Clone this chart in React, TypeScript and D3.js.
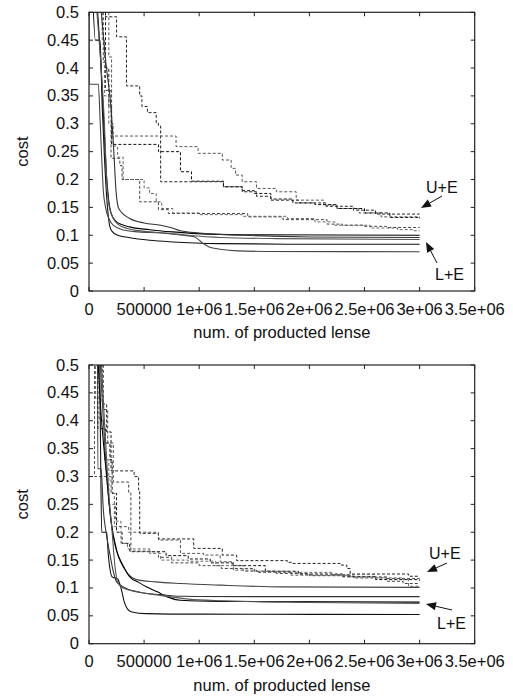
import React from 'react';
import * as d3 from 'd3';

type Pt = [number, number];

const W = 513;
const H = 698;
const X_UNIT = 1e5; // x values below are in units of 100000 lenses

const xTicks = [0, 500000, 1000000, 1500000, 2000000, 2500000, 3000000, 3500000];
const xTickLabels = ['0', '500000', '1e+06', '1.5e+06', '2e+06', '2.5e+06', '3e+06', '3.5e+06'];
const yTicks = [0, 0.05, 0.1, 0.15, 0.2, 0.25, 0.3, 0.35, 0.4, 0.45, 0.5];
const yTickLabels = ['0', '0.05', '0.1', '0.15', '0.2', '0.25', '0.3', '0.35', '0.4', '0.45', '0.5'];

// ---------- top panel: L+E (solid) ----------
const topSolidA: Pt[] = [[0.3, 0.55], [0.58, 0.45], [1.0, 0.45], [1.2, 0.33], [1.4, 0.24], [1.6, 0.17], [1.9, 0.115], [2.1, 0.107], [2.6, 0.1], [3.6, 0.096], [5.5, 0.091], [7.6, 0.088], [11.9, 0.085], [18, 0.084], [30, 0.084]];
const topSolidB: Pt[] = [[0, 0.55], [0.02, 0.371], [0.85, 0.371], [1.0, 0.31], [1.15, 0.24], [1.3, 0.18], [1.5, 0.15], [1.8, 0.13], [2.2, 0.118], [3, 0.11], [4.5, 0.106], [6.5, 0.104], [8.5, 0.1], [9.6, 0.097], [10.3, 0.086], [10.9, 0.079], [11.9, 0.075], [13.5, 0.072], [16, 0.071], [30, 0.0705]];
const topSolidC: Pt[] = [[0.6, 0.55], [1.1, 0.4], [1.35, 0.3], [1.55, 0.22], [1.75, 0.17], [2.0, 0.14], [2.5, 0.124], [3.7, 0.115], [5.5, 0.11], [7.6, 0.106], [9.8, 0.103], [14, 0.101], [30, 0.1]];
const topSolidD: Pt[] = [[0.9, 0.55], [1.55, 0.406], [2.0, 0.328], [2.25, 0.25], [2.45, 0.18], [2.7, 0.148], [3.7, 0.13], [5, 0.122], [6.5, 0.118], [7.4, 0.114], [8.3, 0.108], [10, 0.104], [14, 0.1], [20, 0.097], [30, 0.096]];
const topSolidE: Pt[] = [[0.5, 0.55], [1.1, 0.4], [1.4, 0.3], [1.6, 0.2], [1.8, 0.155], [2.1, 0.135], [2.6, 0.12], [3.5, 0.112], [5, 0.107], [7, 0.104], [9, 0.1], [12, 0.096], [17, 0.094], [30, 0.0925]];

// ---------- top panel: U+E (dashed, step) ----------
const topDashA: Pt[] = [[1.15, 0.55], [1.5, 0.492], [2.5, 0.456], [3.4, 0.368], [4.6, 0.35], [4.8, 0.331], [5.3, 0.32], [6.1, 0.301], [6.3, 0.296], [6.5, 0.196], [12.2, 0.187], [13.9, 0.178], [15.2, 0.17], [16.5, 0.163], [19, 0.158], [21.5, 0.152], [24, 0.145], [26, 0.138], [30, 0.138]];
const topDashB: Pt[] = [[1.6, 0.55], [1.8, 0.42], [2.05, 0.278], [7.9, 0.259], [9.9, 0.247], [12.1, 0.235], [12.9, 0.22], [13.3, 0.208], [13.9, 0.196], [15.2, 0.184], [17.0, 0.178], [18.8, 0.163], [21.3, 0.154], [22.5, 0.148], [24.5, 0.14], [26.5, 0.133], [30, 0.131]];
const topDashC: Pt[] = [[1.3, 0.55], [1.5, 0.4], [1.8, 0.33], [2.05, 0.263], [6.3, 0.25], [8.3, 0.214], [9.3, 0.197], [12.2, 0.187], [13.9, 0.18], [15, 0.175], [16.5, 0.165], [18.5, 0.158], [20.5, 0.155], [22.5, 0.148], [25, 0.14], [27.3, 0.132], [30, 0.13]];
const topDashD: Pt[] = [[1.1, 0.55], [1.3, 0.41], [1.5, 0.36], [2.0, 0.238], [2.8, 0.225], [3.0, 0.2], [4.6, 0.16], [6.3, 0.146], [7.2, 0.139], [14.4, 0.133], [17.6, 0.128], [21.6, 0.12], [23, 0.118], [25, 0.116], [27, 0.114], [30, 0.114]];
const topDashE: Pt[] = [[1.0, 0.55], [1.2, 0.45], [1.4, 0.35], [1.8, 0.3], [2.2, 0.26], [2.6, 0.24], [3.1, 0.2], [5.0, 0.185], [5.5, 0.175], [6.1, 0.16], [6.6, 0.148], [7.6, 0.14], [10, 0.137], [14, 0.134], [18, 0.13], [20.5, 0.124], [22.3, 0.118], [25.5, 0.113], [28, 0.11], [29.5, 0.108], [30, 0.108]];

// ---------- bottom panel: L+E (solid) ----------
const botSolidA: Pt[] = [[0.95, 0.55], [1.05, 0.35], [1.15, 0.2], [1.6, 0.2], [1.75, 0.16], [2.1, 0.12], [2.6, 0.116], [2.9, 0.1], [3.2, 0.075], [3.5, 0.062], [3.9, 0.057], [5.2, 0.054], [10, 0.053], [30, 0.0525]];
const botSolidB: Pt[] = [[0.9, 0.55], [1.3, 0.4], [1.7, 0.28], [2.2, 0.192], [2.6, 0.16], [3.1, 0.138], [3.6, 0.124], [4.3, 0.115], [6, 0.111], [8.3, 0.108], [12, 0.105], [17.4, 0.102], [30, 0.101]];
const botSolidC: Pt[] = [[0.7, 0.55], [1.0, 0.44], [1.6, 0.3], [2.0, 0.22], [2.5, 0.168], [3.1, 0.14], [3.7, 0.12], [4.5, 0.11], [5.2, 0.102], [6.2, 0.093], [7.1, 0.084], [8.3, 0.078], [12, 0.076], [30, 0.0745]];
const botSolidD: Pt[] = [[0.78, 0.55], [0.8, 0.314], [1.1, 0.314], [1.3, 0.24], [1.55, 0.2], [1.9, 0.16], [2.2, 0.13], [2.5, 0.111], [3.4, 0.099], [4.9, 0.091], [6.5, 0.088], [8.3, 0.085], [15, 0.0845], [30, 0.0845]];
const botSolidE: Pt[] = [[1.0, 0.55], [1.4, 0.4], [1.8, 0.27], [2.1, 0.2], [2.35, 0.14], [2.6, 0.11], [3.1, 0.1], [4.2, 0.094], [6, 0.088], [9, 0.08], [12, 0.077], [20, 0.074], [30, 0.072]];

// ---------- bottom panel: U+E (dashed, step) ----------
const botDashA: Pt[] = [[0.9, 0.55], [1.2, 0.43], [1.6, 0.38], [2.0, 0.31], [4.1, 0.3], [4.5, 0.276], [4.6, 0.198], [6.3, 0.188], [9.5, 0.171], [12.1, 0.159], [13.4, 0.149], [18, 0.146], [18.5, 0.144], [22.8, 0.141], [23.4, 0.135], [23.7, 0.125], [29, 0.121], [30, 0.121]];
const botDashB: Pt[] = [[0.4, 0.55], [0.5, 0.3], [1.7, 0.3], [2.0, 0.27], [2.3, 0.21], [3.6, 0.2], [6.3, 0.186], [8.3, 0.162], [10.4, 0.159], [11.9, 0.147], [13.1, 0.132], [15.2, 0.128], [18.3, 0.123], [23.7, 0.12], [27, 0.117], [30, 0.117]];
const botDashC: Pt[] = [[0.7, 0.55], [0.8, 0.386], [1.5, 0.36], [1.9, 0.33], [2.1, 0.27], [2.5, 0.2], [3.0, 0.18], [3.7, 0.166], [5.7, 0.165], [7, 0.158], [9, 0.152], [11, 0.145], [13, 0.14], [16, 0.13], [19, 0.125], [23, 0.12], [26, 0.115], [30, 0.113]];
const botDashD: Pt[] = [[1.1, 0.55], [1.3, 0.42], [1.7, 0.36], [2.2, 0.29], [3.6, 0.27], [3.8, 0.165], [5.6, 0.165], [6.3, 0.155], [7.5, 0.145], [10, 0.14], [12, 0.135], [15, 0.13], [17, 0.126], [20, 0.122], [24, 0.118], [27, 0.112], [28.5, 0.108], [30, 0.108]];
const botDashE: Pt[] = [[0.5, 0.55], [0.6, 0.44], [1.0, 0.4], [1.4, 0.33], [1.8, 0.25], [2.4, 0.22], [2.9, 0.18], [3.5, 0.17], [5.5, 0.162], [6.5, 0.15], [9, 0.148], [11.5, 0.14], [14, 0.13], [18, 0.128], [22, 0.124], [26, 0.118], [28.5, 0.115], [29, 0.103], [30, 0.103]];

const topSolids = [topSolidA, topSolidB, topSolidC, topSolidD, topSolidE];
const topDashes = [topDashA, topDashB, topDashC, topDashD, topDashE];
const botSolids = [botSolidA, botSolidB, botSolidC, botSolidD, botSolidE];
const botDashes = [botDashA, botDashB, botDashC, botDashD, botDashE];

const solidColors = ['#111', '#444', '#000', '#333', '#555'];
const dashColors = ['#222', '#555', '#111', '#444', '#666'];

const FONT = "'Liberation Sans', Arial, Helvetica, sans-serif";
const FS = 16.5;
const PLOT_LEFT = 89;
const PLOT_RIGHT = 474.7;

type Arrow = { text: string; tx: number; ty: number; x1: number; y1: number; x2: number; y2: number };

function ArrowMark({ a }: { a: Arrow }) {
  const ang = Math.atan2(a.y2 - a.y1, a.x2 - a.x1);
  const len = 10;
  const hw = 4;
  const bx = a.x2 - len * Math.cos(ang);
  const by = a.y2 - len * Math.sin(ang);
  const px = -Math.sin(ang) * hw;
  const py = Math.cos(ang) * hw;
  const head = `${a.x2},${a.y2} ${bx + px},${by + py} ${bx - px},${by - py}`;
  return (
    <g>
      <line x1={a.x1} y1={a.y1} x2={bx} y2={by} stroke="#111" strokeWidth={1} />
      <polygon points={head} fill="#111" />
      <text x={a.tx} y={a.ty} fontFamily={FONT} fontSize={16} fill="#111">{a.text}</text>
    </g>
  );
}

function Panel({ id, top, bottom, solids, dashes, arrows }: { id: string; top: number; bottom: number; solids: Pt[][]; dashes: Pt[][]; arrows: Arrow[] }) {
  const x = d3.scaleLinear().domain([0, 3500000]).range([PLOT_LEFT, PLOT_RIGHT]);
  const y = d3.scaleLinear().domain([0, 0.5]).range([bottom, top]);
  const solidGen = d3.line<Pt>().x(d => x(d[0] * X_UNIT)).y(d => y(d[1])).curve(d3.curveMonotoneX);
  const stepGen = d3.line<Pt>().x(d => x(d[0] * X_UNIT)).y(d => y(d[1])).curve(d3.curveStepAfter);
  const tick = 4;
  return (
    <g>
      <defs>
        <clipPath id={id}>
          <rect x={PLOT_LEFT} y={top} width={PLOT_RIGHT - PLOT_LEFT} height={bottom - top} />
        </clipPath>
      </defs>
      <g clipPath={`url(#${id})`}>
        {dashes.map((d, i) => (
          <path key={'d' + i} d={stepGen(d) || ''} fill="none" stroke={dashColors[i]} strokeWidth={1} strokeDasharray="3,2" />
        ))}
        {solids.map((d, i) => (
          <path key={'s' + i} d={solidGen(d) || ''} fill="none" stroke={solidColors[i]} strokeWidth={1.1} />
        ))}
      </g>
      {yTicks.map((v, i) => (
        <g key={'yt' + i}>
          <line x1={PLOT_LEFT} x2={PLOT_LEFT + tick} y1={y(v)} y2={y(v)} stroke="#222" />
          <line x1={PLOT_RIGHT} x2={PLOT_RIGHT - tick} y1={y(v)} y2={y(v)} stroke="#222" />
          <text x={PLOT_LEFT - 10} y={y(v) + 5.5} textAnchor="end" fontFamily={FONT} fontSize={FS} fill="#111">{yTickLabels[i]}</text>
        </g>
      ))}
      {xTicks.map((v, i) => (
        <g key={'xt' + i}>
          <line x1={x(v)} x2={x(v)} y1={bottom} y2={bottom - tick} stroke="#222" />
          <line x1={x(v)} x2={x(v)} y1={top} y2={top + tick} stroke="#222" />
          <text x={x(v)} y={bottom + 23.5} textAnchor="middle" fontFamily={FONT} fontSize={FS} fill="#111">{xTickLabels[i]}</text>
        </g>
      ))}
      <rect x={PLOT_LEFT} y={top} width={PLOT_RIGHT - PLOT_LEFT} height={bottom - top} fill="none" stroke="#222" strokeWidth={1.2} />
      <text transform={`translate(28,${(top + bottom) / 2}) rotate(-90)`} textAnchor="middle" fontFamily={FONT} fontSize={FS} fill="#111">cost</text>
      <text x={(PLOT_LEFT + PLOT_RIGHT) / 2} y={bottom + 47} textAnchor="middle" fontFamily={FONT} fontSize={FS} fill="#111">num. of producted lense</text>
      {arrows.map((a, i) => <ArrowMark key={'a' + i} a={a} />)}
    </g>
  );
}

const topArrows: Arrow[] = [
  { text: 'U+E', tx: 426, ty: 193, x1: 442, y1: 196, x2: 421, y2: 208 },
  { text: 'L+E', tx: 435, ty: 280, x1: 437, y1: 263, x2: 426, y2: 242 },
];
const botArrows: Arrow[] = [
  { text: 'U+E', tx: 429, ty: 559, x1: 447, y1: 563, x2: 427, y2: 572 },
  { text: 'L+E', tx: 437, ty: 629, x1: 452, y1: 610, x2: 426, y2: 604 },
];

export default function App() {
  return (
    <svg width={W} height={H} viewBox={`0 0 ${W} ${H}`} style={{ position: 'absolute', left: 0, top: 0, background: '#fff' }}>
      <rect x={0} y={0} width={W} height={H} fill="#fff" />
      <Panel id="clipTop" top={12.3} bottom={291} solids={topSolids} dashes={topDashes} arrows={topArrows} />
      <Panel id="clipBot" top={365} bottom={643.7} solids={botSolids} dashes={botDashes} arrows={botArrows} />
    </svg>
  );
}
